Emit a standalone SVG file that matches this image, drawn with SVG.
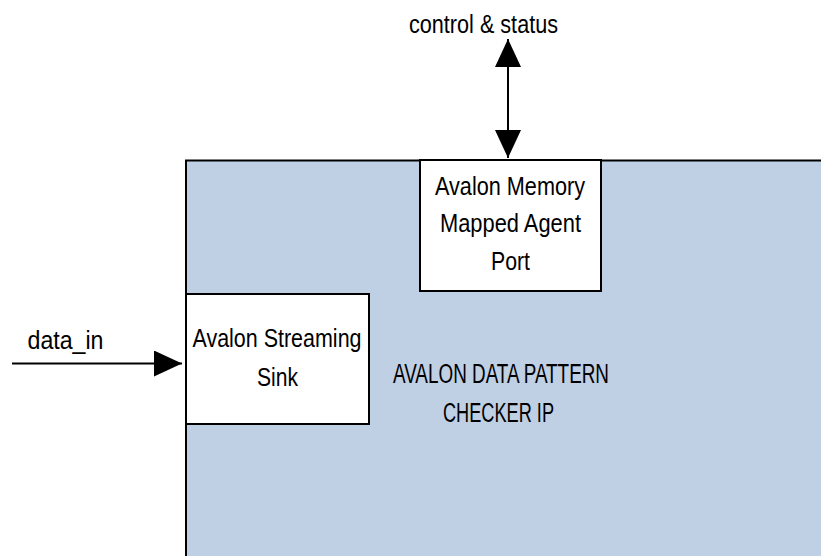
<svg xmlns="http://www.w3.org/2000/svg" width="821" height="556" viewBox="0 0 821 556">
<style>
text{font-family:"Liberation Sans",Arial,sans-serif;font-size:25px;fill:#000;}
.caps{font-size:27px;}
.box{fill:#fff;stroke:#000;stroke-width:2;}
.line{stroke:#000;stroke-width:2;fill:none;}
</style>
<defs>
<marker id="ah" viewBox="0 0 28 26" refX="28" refY="13" markerWidth="28" markerHeight="26" markerUnits="userSpaceOnUse" orient="auto-start-reverse">
<path d="M0,0 L28,13 L0,26 Z" fill="#000"/>
</marker>
</defs>
<rect width="821" height="556" fill="#fff"/>
<g id="checker">
<path d="M186,556 V160.5 H821 V556 Z" fill="#BFCFE4"/>
<path d="M186,556 V160.5 H821" class="line" stroke-width="3"/>
<text class="caps" x="501" y="383" text-anchor="middle" textLength="216" lengthAdjust="spacingAndGlyphs">AVALON DATA PATTERN</text>
<text class="caps" x="498.5" y="421.5" text-anchor="middle" textLength="111" lengthAdjust="spacingAndGlyphs">CHECKER IP</text>
</g>
<g id="mm_port">
<rect class="box" x="420" y="160" width="181" height="131"/>
<text x="510" y="195" text-anchor="middle" textLength="150" lengthAdjust="spacingAndGlyphs">Avalon Memory</text>
<text x="510.5" y="232" text-anchor="middle" textLength="141" lengthAdjust="spacingAndGlyphs">Mapped Agent</text>
<text x="510.5" y="269.5" text-anchor="middle" textLength="39" lengthAdjust="spacingAndGlyphs">Port</text>
</g>
<g id="st_sink">
<rect class="box" x="186" y="294" width="183" height="130"/>
<text x="277" y="347" text-anchor="middle" textLength="169" lengthAdjust="spacingAndGlyphs">Avalon Streaming</text>
<text x="277.5" y="386" text-anchor="middle" textLength="41" lengthAdjust="spacingAndGlyphs">Sink</text>
</g>
<g id="connectors">
<line class="line" x1="508" y1="39" x2="508" y2="158" marker-start="url(#ah)" marker-end="url(#ah)"/>
<line class="line" x1="12" y1="363.5" x2="182" y2="363.5" marker-end="url(#ah)"/>
<text x="483.5" y="33" text-anchor="middle" textLength="149" lengthAdjust="spacingAndGlyphs">control &amp; status</text>
<text x="27.5" y="349" textLength="76" lengthAdjust="spacingAndGlyphs">data_in</text>
</g>
</svg>
